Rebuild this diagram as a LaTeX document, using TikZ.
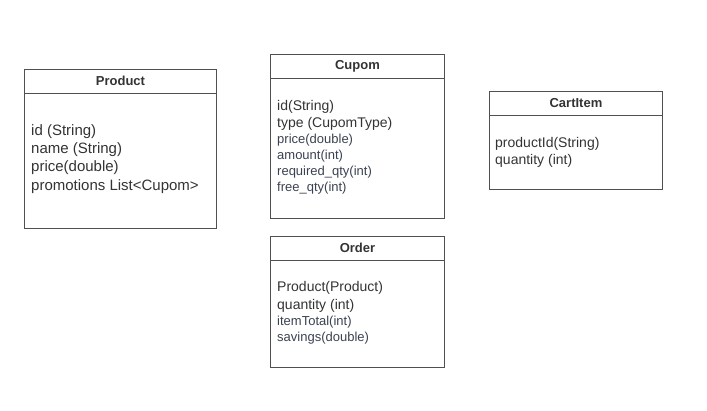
\documentclass[tikz,border=0pt]{standalone}
\usepackage{fontspec}
\setmainfont{Liberation Sans}
\usepackage{tikz}
\usetikzlibrary{positioning}

\definecolor{boxgray}{RGB}{80,80,80}
\definecolor{textdark}{RGB}{51,51,51}
\definecolor{textsmall}{RGB}{58,65,80}

\tikzset{
  classbox/.style={draw=boxgray, line width=0.9pt, anchor=north west, inner sep=0pt},
  classhead/.style={draw=boxgray, line width=0.9pt, anchor=north, minimum height=23.5pt, inner sep=0pt,
    font=\bfseries\fontsize{13}{15}\selectfont, text=textdark},
  attrlarge/.style={anchor=base west, align=left, inner sep=0pt, text=textdark, font=\fontsize{15}{18.1}\selectfont},
  attrbig/.style={anchor=base west, align=left, inner sep=0pt, text=textdark, font=\fontsize{14}{17.7}\selectfont},
  attrsmall/.style={anchor=base west, align=left, inner sep=0pt, text=textsmall, font=\fontsize{13}{16}\selectfont}
}

\begin{document}
\begin{tikzpicture}[x=1pt,y=-1pt]
\useasboundingbox (0,0) rectangle (707,410);

% Product
\node[classbox, minimum width=192pt, minimum height=159pt] (product) at (24,69) {};
\node[classhead, minimum width=192pt] (producthead) at (product.north) {Product};
\node[attrlarge] (productattr) at (31,190) {id (String)\\name (String)\\price(double)\\promotions List<Cupom>};

% Cupom
\node[classbox, minimum width=174pt, minimum height=164pt] (cupom) at (270,54) {};
\node[classhead, minimum width=174pt] (cupomhead) at (cupom.north) {Cupom};
\node[attrbig] (cupomattr) at (277,127.7) {id(String)\\type (CupomType)};
\node[attrsmall] (cupomextra) at (277,191.1) {price(double)\\amount(int)\\required\_qty(int)\\free\_qty(int)};

% Order
\node[classbox, minimum width=174pt, minimum height=131pt] (order) at (270,236) {};
\node[classhead, minimum width=174pt] (orderhead) at (order.north) {Order};
\node[attrbig] (orderattr) at (277,309.6) {Product(Product)\\quantity (int)};
\node[attrsmall] (orderextra) at (277,341.1) {itemTotal(int)\\savings(double)};

% CartItem
\node[classbox, minimum width=173pt, minimum height=98pt] (cartitem) at (489,91) {};
\node[classhead, minimum width=173pt] (cartitemhead) at (cartitem.north) {CartItem};
\node[attrbig, font=\fontsize{14}{17}\selectfont] (cartitemattr) at (495,164.6) {productId(String)\\quantity (int)};
\end{tikzpicture}
\end{document}
